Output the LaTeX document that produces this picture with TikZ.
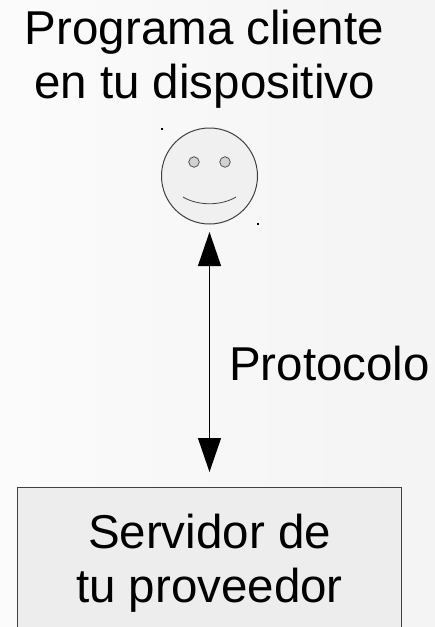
\documentclass[tikz,border=0pt]{standalone}
\usepackage{fontspec}
\setmainfont{Liberation Sans}
\usetikzlibrary{arrows.meta}
\definecolor{bgl}{gray}{0.985}
\definecolor{bgr}{gray}{0.955}
\tikzset{
  lbl/.style={font=\fontsize{47.5}{54}\selectfont, align=center, inner sep=0pt, text=black, anchor=base},
  lineshape/.style={draw=black!75, line width=1pt},
  link/.style={draw=black, line width=1.1pt, {Triangle[length=34pt,width=23pt]}-{Triangle[length=34pt,width=23pt]}},
  speck/.style={fill=black, inner sep=0pt, minimum size=1.2pt},
  eye/.style={circle, draw=black!75, fill=black!18, line width=0.7pt, inner sep=0pt, minimum size=10.5pt}
}
\begin{document}
\begin{tikzpicture}[x=1pt,y=-1pt]
\useasboundingbox (0,0) rectangle (435,627);
\clip (0,0) rectangle (435,627);
\shade[left color=bgl, right color=bgr] (0,0) rectangle (435,627);
\node[lbl] (cli) at (204.5,98.3) {Programa cliente\\en tu dispositivo};
\node[circle, lineshape, fill=black!6, inner sep=0pt, minimum size=96pt] (face) at (209.5,176) {};
\node[eye] (el) at (194,162) {};
\node[eye] (er) at (225,162) {};
\coordinate (ma) at (183,197);
\coordinate (mb) at (236,197);
\draw[black!75, line width=0.8pt] (ma) .. controls (198,206) and (221,206) .. (mb);
\node[speck] (s1) at (162,129) {};
\node[speck] (s2) at (258,224) {};
\node[rectangle, lineshape, fill=black!7, inner sep=0pt, minimum width=384pt, minimum height=153pt] (srv) at (209.5,563.5) {};
\node[lbl] (srvt) at (209.5,602) {Servidor de\\tu proveedor};
\coordinate (topm) at (209.5,232);
\coordinate (botm) at (209.5,472);
\draw[link] (topm) -- (botm);
\node[lbl] (proto) at (329.5,380.7) {Protocolo};
\end{tikzpicture}
\end{document}
